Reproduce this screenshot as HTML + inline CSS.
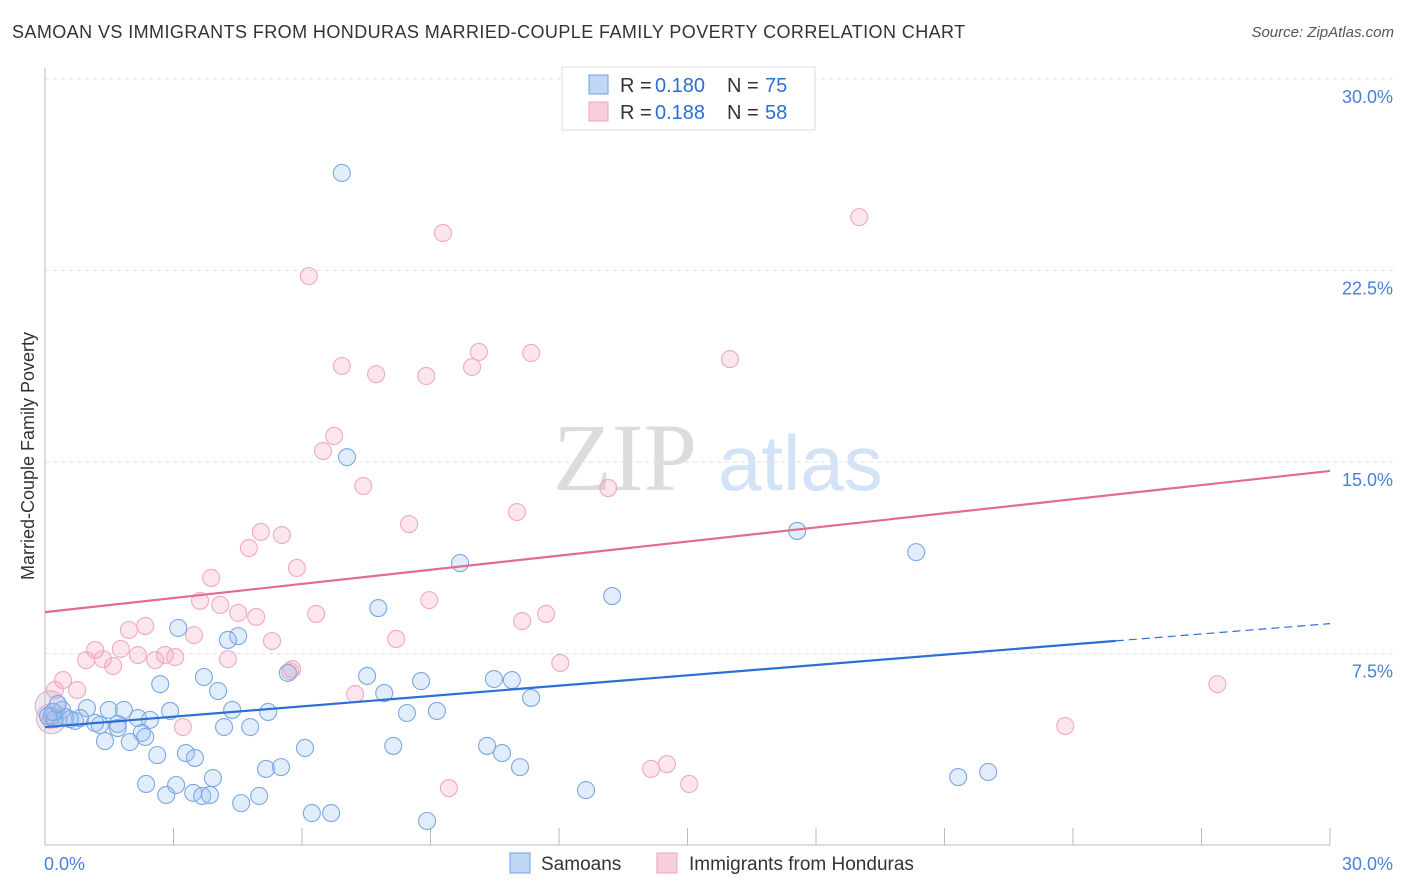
<!DOCTYPE html>
<html><head><meta charset="utf-8">
<style>
body{margin:0;background:#fff;font-family:"Liberation Sans",sans-serif;}
#wrap{position:relative;width:1406px;height:892px;overflow:hidden;}
.t{position:absolute;white-space:nowrap;}
</style></head>
<body><div id="wrap">
<div class="t" style="left:12px;top:22px;font-size:18px;color:#333;letter-spacing:0.42px">SAMOAN VS IMMIGRANTS FROM HONDURAS MARRIED-COUPLE FAMILY POVERTY CORRELATION CHART</div>
<div class="t" style="right:12px;top:24px;font-size:15px;color:#555;font-style:italic">Source: ZipAtlas.com</div>
<svg id="svg" width="1406" height="892" style="position:absolute;left:0;top:0"></svg>
</div>
<script>
const blueX=[6.93,7.05,17.56,20.34,9.69,13.24,7.78,3.11,4.51,4.27,5.67,7.52,3.71,2.69,4.04,7.92,8.78,10.48,10.90,11.35,4.37,5.21,8.45,9.15,2.92,1.84,1.49,0.98,0.40,0.16,0.23,0.47,0.70,0.82,1.17,1.70,2.17,2.45,2.26,2.34,1.98,1.40,4.18,4.79,2.62,3.29,3.50,6.07,8.13,10.32,10.67,11.09,5.16,5.51,3.92,2.36,3.06,2.83,3.46,3.67,3.85,4.58,5.00,6.23,6.68,8.92,12.63,21.32,22.02,0.07,0.19,0.30,0.58,1.28,1.70];
const blueY=[26.32,15.19,12.30,11.47,11.04,9.75,9.28,8.50,8.18,8.03,6.74,6.62,6.58,6.30,6.03,5.95,6.42,6.50,6.46,5.76,5.29,5.21,5.17,5.25,5.25,5.29,5.29,5.36,5.29,5.05,4.93,5.01,4.86,4.97,4.78,4.74,4.97,4.90,4.39,4.23,4.03,4.07,4.62,4.62,3.52,3.60,3.41,3.80,3.88,3.88,3.60,3.05,2.98,3.05,2.62,2.39,2.35,1.96,2.04,1.92,1.96,1.64,1.92,1.25,1.25,0.94,2.15,2.66,2.86,5.05,5.21,5.52,4.93,4.70,4.58];
const pinkX=[19.01,9.29,6.16,6.93,7.73,8.90,9.97,10.13,11.35,15.99,6.75,6.49,7.43,13.15,11.02,8.50,5.04,5.53,4.76,5.88,3.88,3.62,4.09,4.51,4.93,6.33,8.97,11.70,11.14,3.48,1.96,2.34,5.30,8.20,1.17,1.77,2.17,2.80,3.04,2.57,0.96,1.35,1.59,4.27,5.77,5.72,12.03,0.42,0.75,7.24,3.22,27.37,23.82,14.52,14.15,15.04,9.43,0.12,0.23];
const pinkY=[24.59,23.97,22.28,18.76,18.44,18.37,18.72,19.31,19.27,19.03,16.02,15.43,14.06,13.98,13.04,12.57,12.26,12.14,11.63,10.85,10.46,9.56,9.40,9.09,8.93,9.05,9.59,9.05,8.77,8.22,8.42,8.58,7.99,8.07,7.64,7.68,7.44,7.44,7.36,7.24,7.24,7.28,7.01,7.28,6.89,6.81,7.13,6.46,6.07,5.91,4.62,6.30,4.66,3.17,2.98,2.39,2.23,4.90,6.07];
const bubbleX=[0.12,0.15];
const bubbleY=[5.45,4.95];
const yTicks=[7.5,15,22.5,30];
const yTickLabels=["7.5%","15.0%","22.5%","30.0%"];
const blueTrend=[4.62,0.135];
const blueSolidEnd=25;
const pinkTrend=[9.12,0.1843];

const X0=45,X1=1330,Y0=845,YTOP=79;
const sx=v=>X0+(v/30)*(X1-X0);
const sy=v=>Y0-(v/30)*(Y0-YTOP);
const svg=document.getElementById('svg');
const NS='http://www.w3.org/2000/svg';
function mk(tag,attrs,parent){const e=document.createElementNS(NS,tag);for(const k in attrs)e.setAttribute(k,attrs[k]);(parent||svg).appendChild(e);return e;}

let w=mk('text',{x:553,y:490,'font-size':96,fill:'#dcdcdc','font-family':'Liberation Serif, serif'});w.textContent='ZIP';


let w2=mk('text',{x:718,y:490,'font-size':78,fill:'#d3e2f4','font-family':'Liberation Sans, sans-serif'});w2.textContent='atlas';



yTicks.forEach((v,i)=>{
  const g=mk('line',{x1:X0,x2:1395,y1:sy(v),y2:sy(v),stroke:'#e2e2e2','stroke-dasharray':'4,4'});
  
  
  const t=mk('text',{x:1393,y:sy(v)+24,'text-anchor':'end','font-size':18,fill:'#4a7fd6'});t.textContent=yTickLabels[i];
  
  
});
let ay=mk('line',{x1:X0,x2:X0,y1:68,y2:Y0,stroke:'#bbb'});


let ax=mk('line',{x1:X0,x2:X1,y1:Y0,y2:Y0,stroke:'#bbb'});


for(let i=1;i<=10;i++){const v=i*3;const tk=mk('line',{x1:sx(v),x2:sx(v),y1:Y0,y2:Y0-17,stroke:'#bbb'});
  
  }
let xl=mk('text',{x:44,y:870,'font-size':18,fill:'#4a7fd6'});xl.textContent='0.0%';


let xr=mk('text',{x:1393,y:870,'font-size':18,fill:'#4a7fd6','text-anchor':'end'});xr.textContent='30.0%';


let yt=mk('text',{x:34,y:456,'font-size':18,fill:'#333','text-anchor':'middle',transform:'rotate(-90 34 456)'});yt.textContent='Married-Couple Family Poverty';



bubbleX.forEach((x,i)=>{const c=mk('circle',{cx:sx(x),cy:sy(bubbleY[i]),r:15,fill:'rgba(200,180,210,0.3)',stroke:'#d0b0c8','stroke-width':1});
  
  });
pinkX.forEach((x,i)=>{const c=mk('circle',{cx:sx(x),cy:sy(pinkY[i]),r:8.5,fill:'rgba(244,160,185,0.28)',stroke:'#f0aac0','stroke-width':1.1});
  
  });
blueX.forEach((x,i)=>{const c=mk('circle',{cx:sx(x),cy:sy(blueY[i]),r:8.5,fill:'rgba(150,190,240,0.28)',stroke:'#7aa8e4','stroke-width':1.1});
  
  });

let pl=mk('line',{x1:sx(0),y1:sy(pinkTrend[0]),x2:sx(30),y2:sy(pinkTrend[0]+pinkTrend[1]*30),stroke:'#e46a96','stroke-width':2.2});


let bl=mk('line',{x1:sx(0),y1:sy(blueTrend[0]),x2:sx(blueSolidEnd),y2:sy(blueTrend[0]+blueTrend[1]*blueSolidEnd),stroke:'#2a6fd6','stroke-width':2.2});


let bd=mk('line',{x1:sx(blueSolidEnd),y1:sy(blueTrend[0]+blueTrend[1]*blueSolidEnd),x2:sx(30),y2:sy(blueTrend[0]+blueTrend[1]*30),stroke:'#2a6fd6','stroke-width':1.2,'stroke-dasharray':'8,5'});



let lb=mk('rect',{x:562,y:67,width:253,height:63,fill:'#fff',stroke:'#ddd'});


[[76,'rgba(150,190,240,0.6)','#6d9fe0','0.180','75'],[103,'rgba(244,160,185,0.5)','#eea0b8','0.188','58']].forEach(r=>{
  const s=mk('rect',{x:589,y:r[0]-1,width:19,height:19,fill:r[1],stroke:r[2]});
  
  
  const t=mk('text',{y:r[0]+16,'font-size':20,fill:'#333'});
  t.innerHTML='<tspan x="620">R = </tspan><tspan x="655" fill="#2a6fd6">'+r[3]+'</tspan><tspan x="727">N = </tspan><tspan x="765" fill="#2a6fd6">'+r[4]+'</tspan>';
  
  
});
[[510,'rgba(150,190,240,0.6)','#6d9fe0','Samoans',541],[657,'rgba(244,160,185,0.5)','#eea0b8','Immigrants from Honduras',689]].forEach(r=>{
  const s=mk('rect',{x:r[0],y:853,width:20,height:20,fill:r[1],stroke:r[2]});
  
  
  const t=mk('text',{x:r[4],y:870,'font-size':19,fill:'#333'});t.textContent=r[3];
  
  
});
</script>
</body></html>
